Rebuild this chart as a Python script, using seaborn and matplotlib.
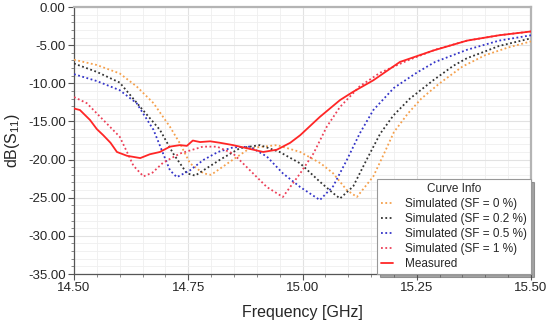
import numpy as np
import pandas as pd
import matplotlib
matplotlib.use("Agg")
import matplotlib.pyplot as plt
from matplotlib.ticker import MultipleLocator
import seaborn as sns

sns.set_theme(style="white")
plt.rcParams["font.family"] = ["Liberation Sans", "DejaVu Sans"]
plt.rcParams["mathtext.default"] = "regular"

# values (frequency in GHz, return loss in dB)
f_sf0 = [14.50, 14.55, 14.60, 14.637, 14.674, 14.71, 14.732, 14.754, 14.783, 14.80,
         14.848, 14.885, 14.944, 14.995, 15.04, 15.067, 15.097, 15.119, 15.155, 15.177,
         15.20, 15.23, 15.26, 15.30, 15.35, 15.40, 15.45, 15.50]
db_sf0 = [-6.9, -7.6, -8.7, -10.4, -12.6, -15.7, -17.9, -20.5, -21.8, -22.0,
          -20.0, -18.5, -18.1, -19.0, -20.5, -21.8, -24.0, -24.9, -22.2, -19.4,
          -16.4, -14.0, -12.0, -10.0, -7.8, -6.3, -5.3, -4.5]

f_sf02 = [14.50, 14.55, 14.60, 14.645, 14.688, 14.717, 14.747, 14.765, 14.82, 14.863,
          14.907, 14.95, 14.995, 15.038, 15.067, 15.082, 15.111, 15.14, 15.17, 15.199,
          15.235, 15.286, 15.33, 15.36, 15.40, 15.43, 15.50]
db_sf02 = [-7.4, -8.5, -9.9, -13.1, -16.1, -19.2, -21.8, -22.1, -20.0, -18.5,
           -18.1, -19.0, -20.5, -22.9, -24.4, -25.1, -23.5, -20.05, -16.6, -14.2,
           -12.0, -9.6, -7.7, -6.7, -5.8, -5.1, -4.1]

f_sf05 = [14.50, 14.55, 14.60, 14.637, 14.674, 14.695, 14.71, 14.725, 14.754, 14.783,
          14.815, 14.848, 14.885, 14.922, 14.957, 14.995, 15.038, 15.067, 15.097, 15.125,
          15.155, 15.20, 15.25, 15.29, 15.36, 15.43, 15.50]
db_sf05 = [-8.8, -9.7, -10.9, -12.6, -16.1, -19.2, -21.4, -22.3, -21.4, -20.05,
           -19.0, -18.4, -18.3, -19.6, -21.8, -23.6, -25.3, -23.5, -20.05, -16.6,
           -13.5, -10.6, -8.6, -7.2, -5.6, -4.4, -3.7]

f_sf1 = [14.50, 14.528, 14.564, 14.60, 14.616, 14.63, 14.652, 14.672, 14.695, 14.732,
         14.782, 14.813, 14.848, 14.885, 14.922, 14.957, 14.995, 15.024, 15.053, 15.082,
         15.125, 15.17, 15.23, 15.29, 15.36, 15.43, 15.50]
db_sf1 = [-11.8, -12.6, -14.8, -17.0, -19.0, -20.8, -22.2, -21.7, -20.4, -19.2,
          -18.3, -18.3, -19.2, -21.4, -23.6, -24.9, -21.8, -19.2, -15.7, -13.1,
          -10.4, -8.6, -7.0, -5.6, -4.4, -3.7, -3.2]

f_meas = [14.50, 14.513, 14.535, 14.55, 14.564, 14.58, 14.594, 14.616, 14.645, 14.666,
          14.688, 14.71, 14.732, 14.747, 14.76, 14.776, 14.798, 14.82, 14.848, 14.885,
          14.914, 14.944, 14.973, 14.995, 15.038, 15.082, 15.111, 15.155, 15.213, 15.286,
          15.36, 15.43, 15.50]
db_meas = [-13.3, -13.5, -14.8, -16.0, -16.8, -17.8, -19.0, -19.5, -19.8, -19.3,
           -19.0, -18.3, -18.1, -18.2, -17.5, -17.7, -17.6, -17.8, -18.1, -18.6,
           -19.0, -18.7, -17.8, -16.8, -14.4, -12.2, -11.1, -9.6, -7.2, -5.7,
           -4.4, -3.7, -3.2]

labels = ["Simulated (SF = 0 %)", "Simulated (SF = 0.2 %)", "Simulated (SF = 0.5 %)",
          "Simulated (SF = 1 %)", "Measured"]
colors = ["#f5a04c", "#333333", "#3434c8", "#ec4058", "#ff2626"]

series = [(f_sf0, db_sf0), (f_sf02, db_sf02), (f_sf05, db_sf05), (f_sf1, db_sf1), (f_meas, db_meas)]
df = pd.concat([pd.DataFrame({"freq": f, "db": d, "curve": lab})
                for (f, d), lab in zip(series, labels)], ignore_index=True)

fig, ax = plt.subplots(figsize=(5.5, 3.21), dpi=100)
fig.subplots_adjust(left=0.1345, right=0.9655, top=0.978, bottom=0.1464)

for lab, col in zip(labels, colors):
    sub = df[df["curve"] == lab]
    if lab == "Measured":
        sns.lineplot(data=sub, x="freq", y="db", ax=ax, color=col, lw=1.3,
                     sort=False, label=lab, zorder=5)
    else:
        sns.lineplot(data=sub, x="freq", y="db", ax=ax, color=col, lw=1.3,
                     linestyle=(0, (1, 1.4)), sort=False, label=lab, zorder=3)

ax.set_xlim(14.5, 15.5)
ax.set_ylim(-35, 0)
ax.xaxis.set_major_locator(MultipleLocator(0.25))
ax.xaxis.set_minor_locator(MultipleLocator(0.05))
ax.yaxis.set_major_locator(MultipleLocator(5))
ax.yaxis.set_minor_locator(MultipleLocator(1))
ax.xaxis.set_major_formatter(lambda v, p: f"{v:.2f}")
ax.yaxis.set_major_formatter(lambda v, p: f"{v:.2f}")

ax.grid(which="major", color="#e2e2e2", lw=0.8)
ax.grid(which="minor", color="#efefef", lw=0.6)
ax.set_axisbelow(True)

ax.tick_params(which="major", direction="out", length=4, width=0.8, color="#555555",
               labelsize=9.5, pad=2, left=True, bottom=True)
ax.tick_params(which="minor", direction="out", length=2.5, width=0.6, color="#777777",
               left=True, bottom=True)
for s in ["left", "bottom"]:
    ax.spines[s].set_color("#555555")
    ax.spines[s].set_linewidth(0.9)
for s in ["top", "right"]:
    ax.spines[s].set_color("#b4b4b4")
    ax.spines[s].set_linewidth(1.6)

ax.set_xlabel("Frequency [GHz]", fontsize=11.5, labelpad=8)
ax.set_ylabel("dB(S$_{11}$)", fontsize=11.5, labelpad=4)

leg = ax.legend(title="Curve Info", loc="lower right", bbox_to_anchor=(1, 0),
                borderaxespad=0, fontsize=8.5, title_fontsize=8.5, frameon=True,
                fancybox=False, shadow=True, edgecolor="#999999", framealpha=1,
                handlelength=1.0, handletextpad=1.0, labelspacing=0.25,
                borderpad=0.35)
leg.get_frame().set_linewidth(0.8)

fig.savefig("out.png", dpi=100)
